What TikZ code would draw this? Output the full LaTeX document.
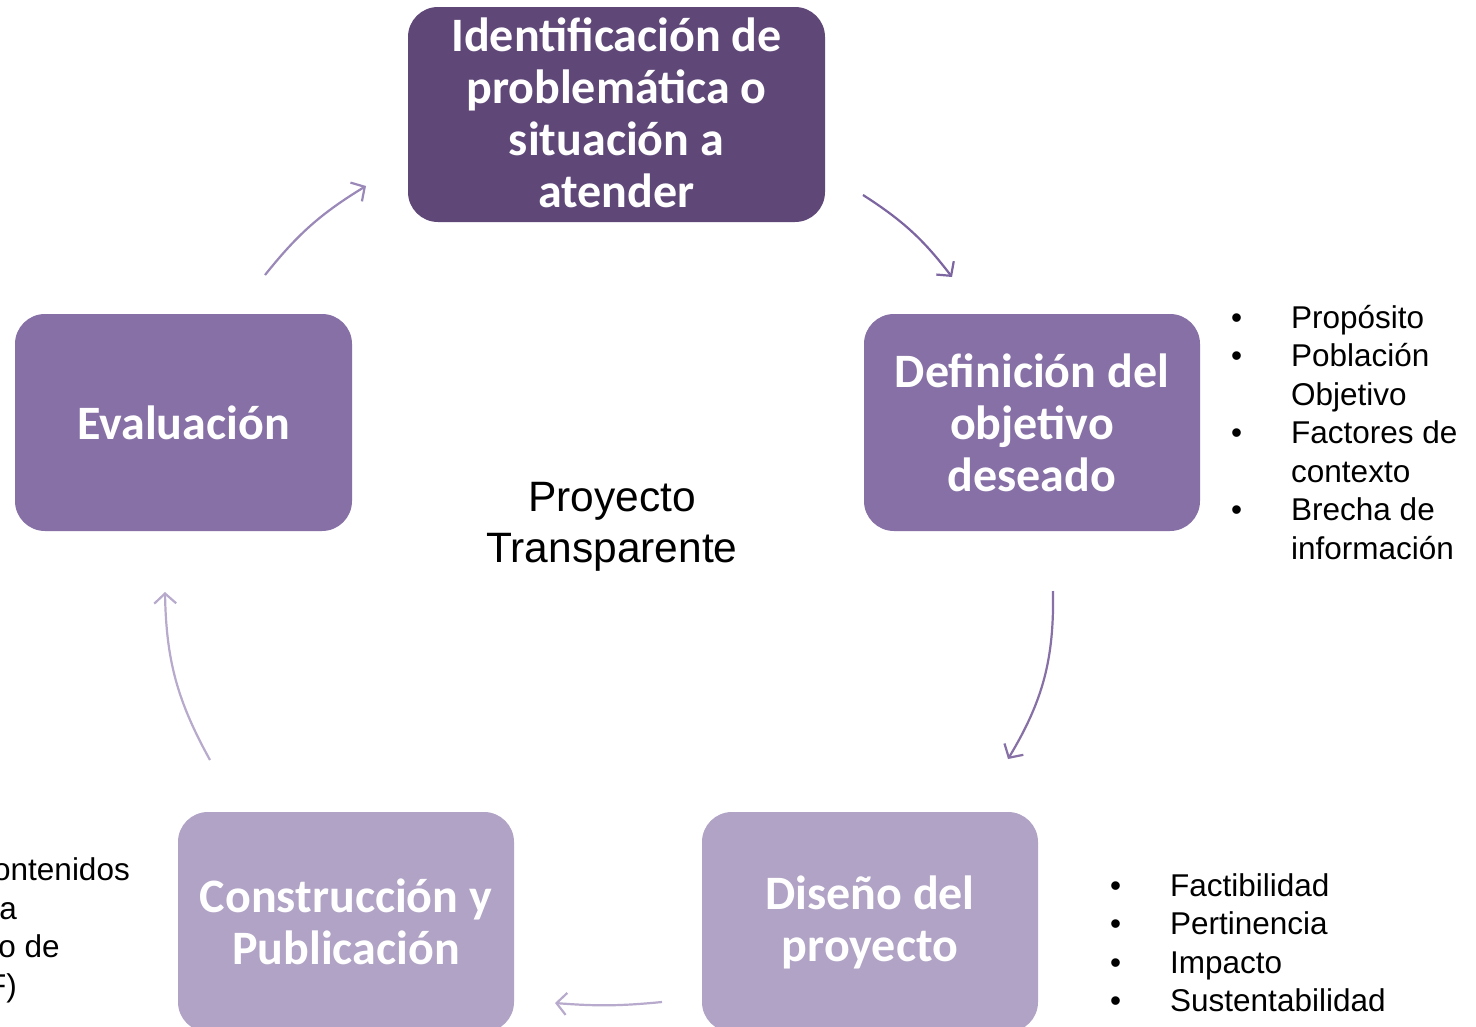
\documentclass[tikz,border=0pt]{standalone}
\usepackage{fontspec}
\setmainfont{Liberation Sans}
\newfontfamily\boxfont{Carlito}
\usetikzlibrary{arrows.meta}
\definecolor{cdark}{HTML}{5F4878}
\definecolor{cmid}{HTML}{8670A5}
\definecolor{clight}{HTML}{B1A3C5}
\definecolor{adark}{HTML}{7C65A0}
\definecolor{atl}{HTML}{9A88B8}
\definecolor{alight}{HTML}{B7AACC}
\tikzset{
  stagebox/.style={rounded corners=30pt, draw=none, text=white, align=center,
    font=\boxfont\bfseries\fontsize{48}{52}\selectfont, inner sep=0pt},
  plain/.style={font=\fontsize{42.5}{51}\selectfont, align=center, inner sep=0pt},
  blist/.style={font=\fontsize{31.5}{38.5}\selectfont, align=left, inner sep=0pt, anchor=north west},
  frag/.style={font=\fontsize{31.5}{38.5}\selectfont, inner sep=0pt, anchor=base east},
  cyc/.style={line width=2.2pt, -{Straight Barb[length=10pt,width=22pt,line width=2.2pt]}}
}
\newcommand{\bul}{\makebox[60pt][l]{•}}
\newcommand{\ind}{\hspace*{60pt}}
\begin{document}
\begin{tikzpicture}[x=1pt,y=-1pt]
\useasboundingbox (0,0) rectangle (1476,1026);
\clip (0,0) rectangle (1476,1026);
\fill[white] (0,0) rectangle (1476,1026);

\node[stagebox, fill=cdark, minimum width=417pt, minimum height=215pt] (ident) at (616.5,114.5) {};
\node[stagebox] (identT) at (616.5,112.5) {Identificación de\\problemática o\\situación a\\atender};
\node[stagebox, fill=cmid, minimum width=336pt, minimum height=217pt] (defin) at (1032,422.5)
  {Definición del\\objetivo\\deseado};
\node[stagebox, fill=cmid, minimum width=337pt, minimum height=217pt] (evalu) at (183.5,422.5)
  {Evaluación};
\node[stagebox, fill=clight, minimum width=336pt, minimum height=220pt] (disen) at (870,922)
  {Diseño del\\proyecto};
\node[stagebox, fill=clight, minimum width=336pt, minimum height=220pt] (const) at (346,922)
  {Construcción y\\Publicación};

\node[plain] (center) at (612,527) {Proyecto\\Transparente};

\node[blist] (listA) at (1231,305)
  {\bul Propósito\\\bul Población\\\ind Objetivo\\\bul Factores de\\\ind contexto\\\bul Brecha de\\\ind información};
\node[blist] (listB) at (1110,873)
  {\bul Factibilidad\\\bul Pertinencia\\\bul Impacto\\\bul Sustentabilidad};

\node[frag] (fr1) at (130,880) {ontenidos};
\node[frag] (fr2) at (17,919) {a};
\node[frag] (fr3) at (60,957) {o de};
\node[frag] (fr4) at (17,996) {F)};

\coordinate (a1s) at (265,275); \coordinate (a1e) at (366,186);
\coordinate (a2s) at (863,195); \coordinate (a2e) at (952,277);
\coordinate (a3s) at (1053,591); \coordinate (a3e) at (1008,759);
\coordinate (a4s) at (662,1002); \coordinate (a4e) at (555,1003);
\coordinate (a5s) at (210,760); \coordinate (a5e) at (165,592);

\draw[cyc, atl] (a1s) to[bend left=10] (a1e);
\draw[cyc, adark] (a2s) to[bend left=10] (a2e);
\draw[cyc, cmid] (a3s) to[bend left=16] (a3e);
\draw[cyc, alight] (a4s) to[bend left=5] (a4e);
\draw[cyc, alight] (a5s) to[bend left=14] (a5e);
\end{tikzpicture}
\end{document}
